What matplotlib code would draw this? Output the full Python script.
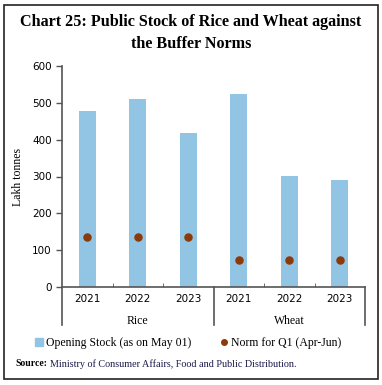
import matplotlib
matplotlib.use('Agg')
import matplotlib.pyplot as plt
from matplotlib.patches import Rectangle
from matplotlib.lines import Line2D
import numpy as np

# data
years = ['2021', '2022', '2023', '2021', '2022', '2023']
groups = ['Rice', 'Wheat']
opening_stock = [479, 510, 418, 524, 302, 290]
buffer_norm = [135.4, 135.4, 135.4, 74.6, 74.6, 74.6]

bar_color = '#92c4e4'
dot_color = '#8b3a0c'
serif = 'Liberation Serif'

fig = plt.figure(figsize=(3.82, 3.85), dpi=100)
ax = fig.add_axes([62/382, 1-287/385, (365-62)/382, (287-66)/385])

x = np.arange(len(years))
ax.bar(x, opening_stock, width=0.34, color=bar_color, zorder=2)
ax.scatter(x, buffer_norm, s=26, color=dot_color, zorder=3)

ax.set_xlim(-0.5, 5.5)
ax.set_ylim(0, 600)
ax.set_yticks(range(0, 601, 100))
ax.set_xticks(x)
ax.set_xticklabels(years, fontsize=7.5, family='DejaVu Sans')
ax.tick_params(axis='y', labelsize=7.5, length=4, color='#555555', width=1)
ax.tick_params(axis='x', length=0, pad=5)
ax.set_xticks([0.5, 1.5, 3.5, 4.5], minor=True)
ax.tick_params(axis='x', which='minor', length=3, direction='in', color='#555555')
for s in ['top', 'right']:
    ax.spines[s].set_visible(False)
for s in ['left', 'bottom']:
    ax.spines[s].set_color('#555555')
    ax.spines[s].set_linewidth(1.2)
ax.set_ylabel('Lakh tonnes', family=serif, fontsize=8.5)
ax.yaxis.set_label_coords(-0.125, 0.5)

# group separators and labels
for xs in [-0.5, 2.5, 5.5]:
    ax.plot([xs, xs], [0, -0.17], transform=ax.get_xaxis_transform(),
            color='#555555', lw=1.2, clip_on=False)
for i, g in enumerate(groups):
    ax.text(1 + 3*i, -0.155, g, transform=ax.get_xaxis_transform(),
            ha='center', va='center', family=serif, fontsize=8.5)

fig.text(0.5, 0.943, 'Chart 25: Public Stock of Rice and Wheat against',
         ha='center', va='center', family=serif, fontweight='bold', fontsize=11.6)
fig.text(0.5, 0.886, 'the Buffer Norms',
         ha='center', va='center', family=serif, fontweight='bold', fontsize=11.6)

handles = [Line2D([], [], marker='s', ls='', color=bar_color, markersize=6),
           Line2D([], [], marker='o', ls='', color=dot_color, markersize=4)]
fig.legend(handles, ['Opening Stock (as on May 01)', 'Norm for Q1 (Apr-Jun)'],
           loc='center', bbox_to_anchor=(0.49, 1-343/385), ncol=2, frameon=False,
           prop={'family': serif, 'size': 8.5}, handletextpad=0.1, columnspacing=2.2,
           handlelength=1)

fig.text(15/382, 1-364/385, 'Source:', family=serif, fontweight='bold', fontsize=7.0,
         va='center', ha='left')
fig.text(50/382, 1-364/385, 'Ministry of Consumer Affairs, Food and Public Distribution.',
         family=serif, fontsize=7.3, va='center', ha='left', color='#1a1a4a')

fig.patches.append(Rectangle((4/382, 1-379/385), 374/382, 374/385, transform=fig.transFigure,
                             fill=False, edgecolor='#222222', lw=1.2))

fig.savefig('out.png', dpi=100, facecolor='white')
